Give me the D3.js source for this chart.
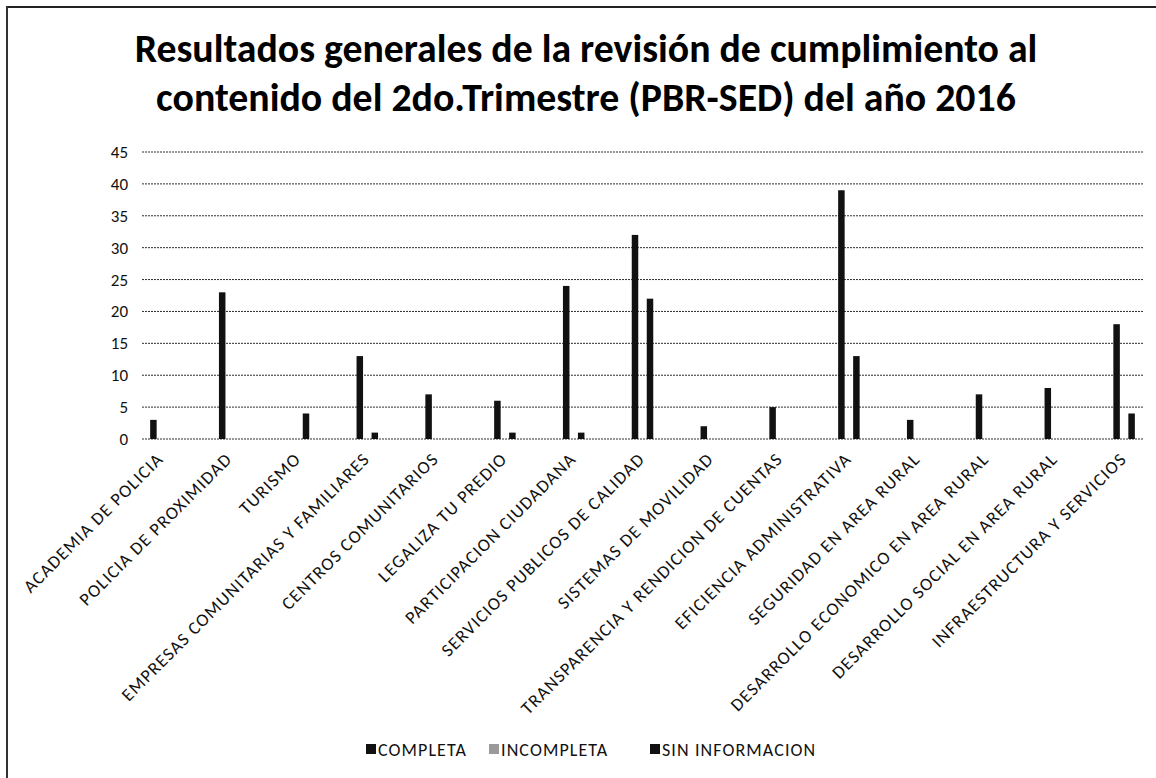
<!DOCTYPE html>
<html>
<head>
<meta charset="utf-8">
<script src="https://cdn.jsdelivr.net/npm/d3@7"></script>
<style>
  html, body { margin: 0; padding: 0; background: #fff; }
  svg { display: block; }
</style>
</head>
<body>
<svg id="chart" width="1156" height="778"></svg>
<script>
const titleLines = [
  "Resultados generales de la revisión de cumplimiento al",
  "contenido del 2do.Trimestre (PBR-SED) del año 2016"
];
const categories = [
  "ACADEMIA DE POLICIA",
  "POLICIA DE PROXIMIDAD",
  "TURISMO",
  "EMPRESAS COMUNITARIAS Y FAMILIARES",
  "CENTROS COMUNITARIOS",
  "LEGALIZA TU PREDIO",
  "PARTICIPACION CIUDADANA",
  "SERVICIOS PUBLICOS DE CALIDAD",
  "SISTEMAS DE MOVILIDAD",
  "TRANSPARENCIA Y RENDICION DE CUENTAS",
  "EFICIENCIA ADMINISTRATIVA",
  "SEGURIDAD EN AREA RURAL",
  "DESARROLLO ECONOMICO EN AREA RURAL",
  "DESARROLLO SOCIAL EN AREA RURAL",
  "INFRAESTRUCTURA Y SERVICIOS"
];
const seriesNames = ["COMPLETA", "INCOMPLETA", "SIN INFORMACION"];
const completa   = [3, 23, 0, 13, 7, 6, 24, 32, 2, 5, 39, 3, 7, 8, 18];
const incompleta = [0, 0, 0, 0, 0, 0, 0, 0, 0, 0, 0, 0, 0, 0, 0];
const sinInfo    = [0, 0, 4, 1, 0, 1, 1, 22, 0, 0, 13, 0, 0, 0, 4];
const yTicks = [0, 5, 10, 15, 20, 25, 30, 35, 40, 45];

const seriesValues = [completa, incompleta, sinInfo];
const seriesColors = ["#111111", "#9a9a9a", "#111111"];

const svg = d3.select("#chart");
const W = 1156, H = 778;

// frame (scanned border: top and left edges)
svg.append("line").attr("x1", 7).attr("x2", W).attr("y1", 7).attr("y2", 7)
  .attr("stroke", "#222").attr("stroke-width", 2);
svg.append("line").attr("x1", 7).attr("x2", 7).attr("y1", 6).attr("y2", H)
  .attr("stroke", "#333").attr("stroke-width", 2);

// title
const titleFont = "Carlito, Calibri, Lato, 'Noto Sans', sans-serif";
const title = svg.append("g");
titleLines.forEach((t, i) => {
  const el = title.append("text")
    .attr("x", 586).attr("y", 62 + i * 49)
    .attr("text-anchor", "middle")
    .attr("font-family", titleFont)
    .attr("font-weight", "bold")
    .attr("font-size", 33)
    .attr("fill", "#000")
    .text(t);
  const target = i === 0 ? 903 : 860;
  const w = el.node().getComputedTextLength();
  if (w > 0) el.attr("font-size", 33 * target / w);
});

// scales
const plotLeft = 142, plotRight = 1143;
const y = d3.scaleLinear().domain([0, 45]).range([439, 152]);
const x0 = d3.scaleBand().domain(categories).range([127, 1159]).paddingInner(0).paddingOuter(0);
const groupW = 22.5;
const x1 = d3.scaleBand().domain(seriesNames).range([0, groupW]).padding(0);
const barW = x1.bandwidth() - 1;

// gridlines
svg.append("g").selectAll("line").data(yTicks).join("line")
  .attr("x1", plotLeft).attr("x2", plotRight)
  .attr("y1", d => y(d)).attr("y2", d => y(d))
  .attr("stroke", "#2e2e2e").attr("stroke-width", 1)
  .attr("stroke-dasharray", "2,1");

// y axis labels
const yAxis = svg.append("g").attr("transform", `translate(128,0)`)
  .call(d3.axisLeft(y).tickValues(yTicks).tickSize(0).tickPadding(0));
yAxis.select(".domain").remove();
yAxis.selectAll("text")
  .attr("font-family", titleFont)
  .attr("font-size", 17)
  .attr("fill", "#111");

// bars
const groups = svg.append("g").selectAll("g").data(categories).join("g")
  .attr("transform", d => `translate(${x0(d) + (x0.bandwidth() - groupW) / 2},0)`);
groups.selectAll("rect")
  .data((c, ci) => seriesNames.map((s, si) => ({ s, si, v: seriesValues[si][ci] })))
  .join("rect")
  .attr("x", d => x1(d.s))
  .attr("width", barW)
  .attr("y", d => y(d.v))
  .attr("height", d => y(0) - y(d.v))
  .attr("fill", d => seriesColors[d.si]);

// x labels
const xAxis = svg.append("g").attr("transform", "translate(0,460)")
  .call(d3.axisBottom(x0).tickSize(0).tickPadding(0));
xAxis.select(".domain").remove();
xAxis.selectAll("text")
  .attr("font-family", titleFont)
  .attr("font-size", 18)
  .attr("letter-spacing", 1.2)
  .attr("fill", "#111")
  .attr("text-anchor", "end")
  .attr("dy", 0)
  .attr("transform", "translate(3,0) rotate(-45)");

// legend
const legendItems = [
  { name: "COMPLETA", x: 366, color: "#111111" },
  { name: "INCOMPLETA", x: 489, color: "#9a9a9a" },
  { name: "SIN INFORMACION", x: 650, color: "#111111" }
];
const lg = svg.append("g").attr("transform", "translate(0,749)");
legendItems.forEach(it => {
  lg.append("rect").attr("x", it.x).attr("y", -5).attr("width", 10).attr("height", 10)
    .attr("fill", it.color);
  lg.append("text").attr("x", it.x + 12).attr("y", 6.5)
    .attr("font-family", titleFont).attr("font-size", 18)
    .attr("letter-spacing", 1.1)
    .attr("fill", "#111").text(it.name);
});
</script>
</body>
</html>
